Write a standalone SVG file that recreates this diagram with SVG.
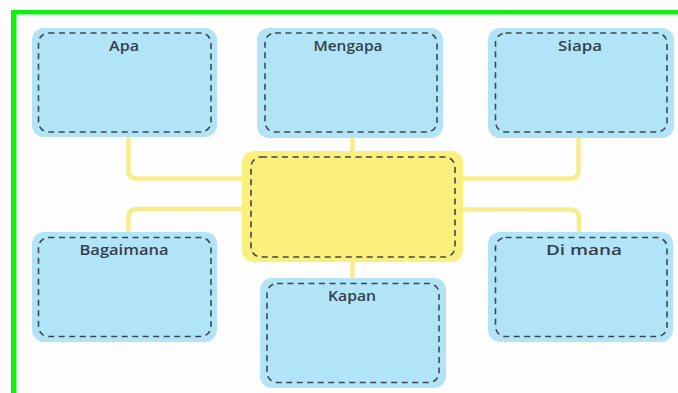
<svg xmlns="http://www.w3.org/2000/svg" width="678" height="393" viewBox="0 0 678 393">
<style>
.bg{fill:#fdfdfd}
.frame{fill:#10ef10}
.box{fill:#b2e4f8}
.center{fill:#fcf07c}
.dash{fill:none;stroke:#3b4853;stroke-width:1.6;stroke-dasharray:6 4.5}
.conn{fill:none;stroke:#f9ec8e;stroke-width:4.5;stroke-linecap:butt}
.lbl{font-family:"Open Sans","Noto Sans","DejaVu Sans",sans-serif;font-size:15px;font-weight:600;fill:#34404b;text-anchor:middle}
</style>
<rect class="bg" x="0" y="0" width="678" height="393"/>
<g id="connectors">
<path class="conn" d="M128.5 137 V170 Q128.5 178.5 137 178.5 H244"/>
<path class="conn" d="M244 209 H137 Q128.5 209 128.5 217.5 V233"/>
<path class="conn" d="M578.5 137 V170 Q578.5 178.5 570 178.5 H461"/>
<path class="conn" d="M461 209.5 H570 Q579 209.5 579 218 V233"/>
<path class="conn" d="M352.5 137 V153"/>
<path class="conn" d="M352.5 260 V279"/>
</g>
<g id="frame">
<rect class="frame" x="11" y="10" width="667" height="4.5"/>
<rect class="frame" x="11" y="10" width="5.5" height="383"/>
</g>
<g id="center">
<rect class="center" x="242" y="151" width="221" height="111" rx="12"/>
<rect class="dash" x="251" y="157" width="204" height="100" rx="10"/>
</g>
<g id="apa">
<rect class="box" x="32" y="28" width="185" height="109" rx="12"/>
<rect class="dash" x="38.5" y="33" width="172.5" height="99" rx="10"/>
<text class="lbl" x="124" y="51" textLength="30" lengthAdjust="spacingAndGlyphs">Apa</text>
</g>
<g id="mengapa">
<rect class="box" x="257" y="28" width="186" height="110" rx="12"/>
<rect class="dash" x="265" y="33" width="172" height="99" rx="10"/>
<text class="lbl" x="348" y="51" textLength="69" lengthAdjust="spacingAndGlyphs">Mengapa</text>
</g>
<g id="siapa">
<rect class="box" x="488" y="28" width="186" height="110" rx="12"/>
<rect class="dash" x="495.5" y="33" width="171.5" height="99" rx="10"/>
<text class="lbl" x="580" y="51" textLength="44" lengthAdjust="spacingAndGlyphs">Siapa</text>
</g>
<g id="bagaimana">
<rect class="box" x="32" y="232" width="185" height="110" rx="12"/>
<rect class="dash" x="38.5" y="237.5" width="172.5" height="99" rx="10"/>
<text class="lbl" x="124" y="254.5" textLength="89" lengthAdjust="spacingAndGlyphs">Bagaimana</text>
</g>
<g id="dimana">
<rect class="box" x="488" y="232" width="185" height="110" rx="12"/>
<rect class="dash" x="495.5" y="237.5" width="171.5" height="99" rx="10"/>
<text class="lbl" x="584" y="254.5" textLength="76" lengthAdjust="spacingAndGlyphs">Di mana</text>
</g>
<g id="kapan">
<rect class="box" x="260" y="278" width="186" height="110" rx="12"/>
<rect class="dash" x="267" y="283.5" width="172" height="99" rx="10"/>
<text class="lbl" x="352" y="300.5" textLength="48" lengthAdjust="spacingAndGlyphs">Kapan</text>
</g>
</svg>
